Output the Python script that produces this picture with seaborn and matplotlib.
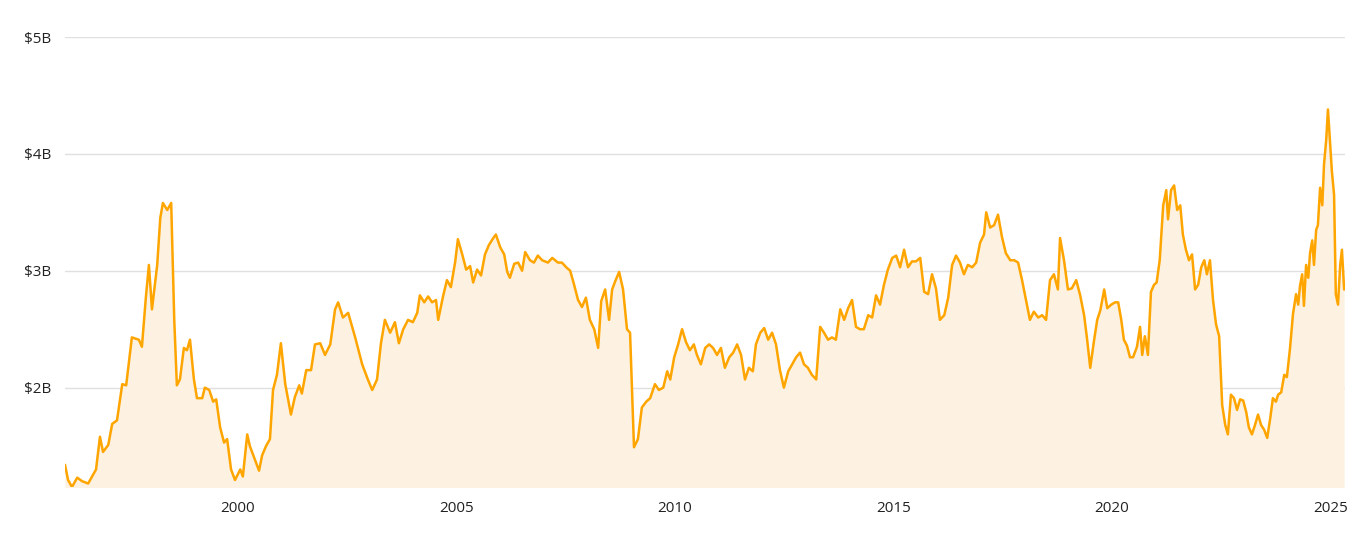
import pandas as pd
import seaborn as sns
import matplotlib.pyplot as plt

# Values (year, $B)
years = [
    1996.04, 1996.11, 1996.20, 1996.32, 1996.43, 1996.57, 1996.75, 1996.84, 1996.91, 1997.03,
    1997.12, 1997.23, 1997.35, 1997.44, 1997.57, 1997.73, 1997.80, 1997.89, 1997.96, 1998.03,
    1998.15, 1998.22, 1998.28, 1998.38, 1998.47, 1998.54, 1998.60, 1998.67, 1998.76, 1998.83,
    1998.90, 1998.99, 1999.06, 1999.18, 1999.24, 1999.34, 1999.43, 1999.50, 1999.59, 1999.68,
    1999.75, 1999.84, 1999.93, 2000.05, 2000.11, 2000.21, 2000.27, 2000.39, 2000.48, 2000.55,
    2000.64, 2000.73, 2000.80, 2000.89, 2000.98, 2001.08, 2001.21, 2001.30, 2001.40, 2001.46,
    2001.56, 2001.67, 2001.76, 2001.88, 2001.99, 2002.11, 2002.22, 2002.29, 2002.40, 2002.52,
    2002.68, 2002.84, 2002.97, 2003.07, 2003.18, 2003.27, 2003.36, 2003.48, 2003.59, 2003.68,
    2003.78, 2003.89, 2004.00, 2004.10, 2004.16, 2004.26, 2004.35, 2004.44, 2004.53, 2004.58,
    2004.69, 2004.78, 2004.87, 2004.97, 2005.03, 2005.13, 2005.22, 2005.31, 2005.38, 2005.47,
    2005.56, 2005.65, 2005.74, 2005.84, 2005.90, 2006.00, 2006.09, 2006.16, 2006.22, 2006.32,
    2006.41, 2006.50, 2006.57, 2006.68, 2006.77, 2006.86, 2006.96, 2007.09, 2007.19, 2007.32,
    2007.41, 2007.51, 2007.60, 2007.69, 2007.78, 2007.87, 2007.96, 2008.05, 2008.15, 2008.24,
    2008.31, 2008.40, 2008.49, 2008.56, 2008.63, 2008.72, 2008.81, 2008.90, 2008.97, 2009.06,
    2009.15, 2009.24, 2009.34, 2009.43, 2009.54, 2009.63, 2009.73, 2009.82, 2009.89, 2009.98,
    2010.07, 2010.16, 2010.25, 2010.34, 2010.43, 2010.50, 2010.59, 2010.69, 2010.78, 2010.87,
    2010.96, 2011.05, 2011.14, 2011.24, 2011.33, 2011.42, 2011.51, 2011.60, 2011.69, 2011.78,
    2011.85, 2011.95, 2012.04, 2012.13, 2012.22, 2012.31, 2012.40, 2012.49, 2012.59, 2012.68,
    2012.77, 2012.86, 2012.95, 2013.04, 2013.13, 2013.23, 2013.32, 2013.41, 2013.50, 2013.59,
    2013.68, 2013.78, 2013.87, 2013.96, 2014.05, 2014.14, 2014.23, 2014.32, 2014.42, 2014.51,
    2014.60, 2014.69, 2014.78, 2014.87, 2014.97, 2015.06, 2015.15, 2015.24, 2015.33, 2015.42,
    2015.51, 2015.61, 2015.70, 2015.79, 2015.88, 2015.97, 2016.06, 2016.16, 2016.25, 2016.34,
    2016.43, 2016.52, 2016.61, 2016.70, 2016.80, 2016.89, 2016.98, 2017.07, 2017.12, 2017.21,
    2017.30, 2017.39, 2017.48, 2017.57, 2017.67, 2017.76, 2017.85, 2017.94, 2018.03, 2018.12,
    2018.21, 2018.31, 2018.40, 2018.49, 2018.58, 2018.67, 2018.76, 2018.81, 2018.90, 2018.99,
    2019.08, 2019.18, 2019.27, 2019.36, 2019.43, 2019.50, 2019.59, 2019.66, 2019.73, 2019.82,
    2019.89, 2019.98, 2020.07, 2020.14, 2020.21, 2020.27, 2020.34, 2020.41, 2020.48, 2020.57,
    2020.64, 2020.69, 2020.75, 2020.82, 2020.89, 2020.96, 2021.02, 2021.09, 2021.17, 2021.24,
    2021.28, 2021.35, 2021.42, 2021.49, 2021.56, 2021.62, 2021.69, 2021.76, 2021.83, 2021.90,
    2021.97, 2022.04, 2022.11, 2022.17, 2022.24, 2022.31, 2022.38, 2022.45, 2022.52, 2022.59,
    2022.65, 2022.72, 2022.79, 2022.86, 2022.93, 2023.00, 2023.07, 2023.13, 2023.20, 2023.27,
    2023.34, 2023.41, 2023.48, 2023.55, 2023.62, 2023.68, 2023.75, 2023.80, 2023.87, 2023.94,
    2024.00, 2024.07, 2024.14, 2024.21, 2024.26, 2024.30, 2024.35, 2024.39, 2024.44, 2024.49,
    2024.53, 2024.58, 2024.62, 2024.67, 2024.71, 2024.76, 2024.81, 2024.85, 2024.90, 2024.94,
    2024.99, 2025.03, 2025.08, 2025.12, 2025.17, 2025.22, 2025.26, 2025.31,
]
values = [
    1.34, 1.21, 1.15, 1.23, 1.20, 1.18, 1.30, 1.58, 1.45, 1.51,
    1.69, 1.72, 2.03, 2.02, 2.43, 2.41, 2.35, 2.77, 3.05, 2.67,
    3.05, 3.45, 3.58, 3.52, 3.58, 2.58, 2.02, 2.07, 2.34, 2.32,
    2.41, 2.07, 1.91, 1.91, 2.00, 1.98, 1.88, 1.90, 1.66, 1.53,
    1.56, 1.30, 1.21, 1.30, 1.24, 1.60, 1.50, 1.38, 1.29, 1.42,
    1.50, 1.56, 1.98, 2.11, 2.38, 2.03, 1.77, 1.92, 2.02, 1.95,
    2.15, 2.15, 2.37, 2.38, 2.28, 2.37, 2.67, 2.73, 2.60, 2.64,
    2.43, 2.20, 2.07, 1.98, 2.07, 2.38, 2.58, 2.47, 2.56, 2.38,
    2.50, 2.58, 2.56, 2.64, 2.79, 2.73, 2.78, 2.73, 2.75, 2.58,
    2.78, 2.92, 2.86, 3.08, 3.27, 3.14, 3.01, 3.04, 2.90, 3.01,
    2.96, 3.14, 3.22, 3.28, 3.31, 3.20, 3.14, 2.99, 2.94, 3.06,
    3.07, 3.00, 3.16, 3.09, 3.07, 3.13, 3.09, 3.07, 3.11, 3.07,
    3.07, 3.03, 3.00, 2.88, 2.75, 2.69, 2.77, 2.58, 2.50, 2.34,
    2.74, 2.84, 2.58, 2.84, 2.91, 2.99, 2.84, 2.50, 2.47, 1.49,
    1.56, 1.83, 1.88, 1.91, 2.03, 1.98, 2.00, 2.14, 2.07, 2.26,
    2.37, 2.50, 2.39, 2.32, 2.37, 2.28, 2.20, 2.34, 2.37, 2.34,
    2.28, 2.34, 2.17, 2.26, 2.30, 2.37, 2.28, 2.07, 2.17, 2.14,
    2.37, 2.47, 2.51, 2.41, 2.47, 2.37, 2.15, 2.00, 2.14, 2.20,
    2.26, 2.30, 2.20, 2.17, 2.11, 2.07, 2.52, 2.47, 2.41, 2.43,
    2.41, 2.67, 2.58, 2.68, 2.75, 2.52, 2.50, 2.50, 2.62, 2.60,
    2.79, 2.71, 2.88, 3.01, 3.11, 3.13, 3.03, 3.18, 3.03, 3.08,
    3.08, 3.11, 2.82, 2.80, 2.97, 2.85, 2.58, 2.62, 2.77, 3.05,
    3.13, 3.07, 2.97, 3.05, 3.03, 3.07, 3.24, 3.31, 3.50, 3.37,
    3.39, 3.48, 3.29, 3.15, 3.09, 3.09, 3.07, 2.92, 2.75, 2.58,
    2.65, 2.60, 2.62, 2.58, 2.92, 2.97, 2.84, 3.28, 3.09, 2.84,
    2.85, 2.92, 2.79, 2.62, 2.41, 2.17, 2.41, 2.58, 2.66, 2.84,
    2.68, 2.71, 2.73, 2.73, 2.58, 2.41, 2.36, 2.26, 2.26, 2.35,
    2.52, 2.28, 2.44, 2.28, 2.82, 2.88, 2.90, 3.09, 3.56, 3.69,
    3.44, 3.69, 3.73, 3.52, 3.56, 3.31, 3.18, 3.09, 3.14, 2.84,
    2.88, 3.03, 3.09, 2.97, 3.09, 2.75, 2.54, 2.44, 1.85, 1.68,
    1.60, 1.94, 1.91, 1.81, 1.90, 1.89, 1.79, 1.66, 1.60, 1.68,
    1.77, 1.68, 1.64, 1.57, 1.74, 1.91, 1.88, 1.94, 1.96, 2.11,
    2.09, 2.33, 2.63, 2.80, 2.71, 2.87, 2.97, 2.70, 3.05, 2.94,
    3.15, 3.26, 3.05, 3.35, 3.39, 3.71, 3.56, 3.91, 4.12, 4.38,
    4.09, 3.85, 3.65, 2.80, 2.71, 3.05, 3.18, 2.84,
]

df = pd.DataFrame({"year": years, "value": values})

sns.set_theme(style="white")
plt.rcParams["font.family"] = ["Open Sans", "DejaVu Sans"]

fig = plt.figure(figsize=(13.66, 5.37), dpi=100)
ax = fig.add_axes([65 / 1366, 50 / 537, 1280 / 1366, 450 / 537])

line_color = "#FFA500"
ax.fill_between(df["year"], df["value"], 0, color="#FDF1E1", linewidth=0, zorder=1)
sns.lineplot(data=df, x="year", y="value", ax=ax, color=line_color, linewidth=1.8, zorder=3)

ax.set_xlim(1996.04, 2025.33)
ax.set_ylim(1.15, 5.0)
ax.set_yticks([2, 3, 4, 5])
ax.set_yticklabels(["$2B", "$3B", "$4B", "$5B"])
ax.set_xticks([2000, 2005, 2010, 2015, 2020, 2025])
ax.set_xticklabels(["2000", "2005", "2010", "2015", "2020", "2025"])
ax.tick_params(axis="both", length=0, labelsize=11, colors="#222222")
ax.tick_params(axis="y", pad=10)
ax.tick_params(axis="x", pad=10)
ax.yaxis.grid(True, color="#e0e0e0", linewidth=1, zorder=0)
ax.set_xlabel("")
ax.set_ylabel("")
for s in ax.spines.values():
    s.set_visible(False)

fig.savefig("out.png", dpi=100)
